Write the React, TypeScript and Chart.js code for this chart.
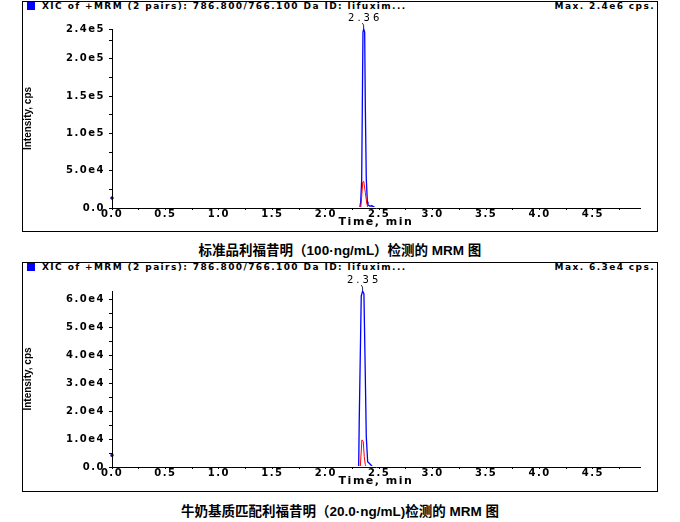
import React, { useEffect, useRef } from 'react';
import { Chart, registerables } from 'chart.js';
Chart.register(...registerables);

// ---- shared axis settings ----
const xMax = 4.94;
const xTickValues = [0, 0.25, 0.5, 0.75, 1, 1.25, 1.5, 1.75, 2, 2.25, 2.5, 2.75, 3, 3.25, 3.5, 3.75, 4, 4.25, 4.5, 4.75];
const xLabelStep = 0.5;

// ---- top chromatogram: standard, 100 ng/mL ----
const topBlueTimes = [0, 2.318, 2.327, 2.336, 2.348, 2.355, 2.364, 2.37, 2.379, 2.389, 2.395, 2.411, 2.43, 2.449, 2.467, 4.94];
const topBlueValues = [0, 0, 8400, 37500, 236000, 240000, 236000, 138000, 40000, 8400, 4000, 2500, 3000, 1500, 0, 0];
const topRedTimes = [0, 2.327, 2.336, 2.346, 2.355, 2.37, 2.383, 2.395, 4.94];
const topRedValues = [0, 0, 15000, 34800, 36000, 21000, 6700, 0, 0];
const topYMax = 240000;
const topYTickValues = [0, 25000, 50000, 75000, 100000, 125000, 150000, 175000, 200000, 225000, 240000];
const topYLabelValues = [0, 50000, 100000, 150000, 200000, 240000];
const topPeakTime = 2.355;
const topPeakLabel = '2.36';
const topMarker = 13400;
const topHeader = 'XIC of +MRM (2 pairs): 786.800/766.100 Da ID: lifuxim...';
const topMax = 'Max. 2.4e6 cps.';
const topCaption = '标准品利福昔明（100·ng/mL）检测的 MRM 图';

// ---- bottom chromatogram: milk matrix-matched, 20.0 ng/mL ----
const bottomBlueTimes = [0, 2.308, 2.313, 2.332, 2.345, 2.357, 2.369, 2.379, 2.392, 2.416, 2.439, 4.94];
const bottomBlueValues = [0, 0, 16300, 61300, 63000, 62000, 34900, 10900, 1900, 1000, 0, 0];
const bottomRedTimes = [0, 2.323, 2.338, 2.351, 2.36, 2.369, 2.378, 4.94];
const bottomRedValues = [0, 0, 9700, 9100, 3700, 1000, 0, 0];
const bottomYMax = 63000;
const bottomYTickValues = [0, 5000, 10000, 15000, 20000, 25000, 30000, 35000, 40000, 45000, 50000, 55000, 60000];
const bottomYLabelValues = [0, 10000, 20000, 30000, 40000, 50000, 60000];
const bottomPeakTime = 2.345;
const bottomPeakLabel = '2.35';
const bottomMarker = 4200;
const bottomHeader = 'XIC of +MRM (2 pairs): 786.800/766.100 Da ID: lifuxim...';
const bottomMax = 'Max. 6.3e4 cps.';
const bottomCaption = '牛奶基质匹配利福昔明（20.0·ng/mL)检测的 MRM 图';

const xTitle = 'Time, min';
const yTitle = 'Intensity, cps';

type PanelProps = {
  boxTop: number;
  boxHeight: number;
  canvasTop: number;
  canvasHeight: number;
  padTop: number;
  xAxisH: number;
  blueTimes: number[];
  blueValues: number[];
  redTimes: number[];
  redValues: number[];
  yMax: number;
  yTicks: number[];
  yLabels: number[];
  peakTime: number;
  peakLabel: string;
  marker: number;
  header: string;
  maxText: string;
};

const fmtY = (v: number) => (v === 0 ? '0.0' : v.toExponential(1).replace('e+', 'e'));
const near = (v: number, step: number) => Math.abs(v / step - Math.round(v / step)) < 1e-6;

function Panel(p: PanelProps) {
  const ref = useRef<HTMLCanvasElement | null>(null);
  useEffect(() => {
    if (!ref.current) return;
    const toPts = (t: number[], v: number[]) => t.map((x, i) => ({ x, y: v[i] }));
    const xTickFont = { family: 'DejaVu Sans', size: 10, weight: 'bold' as const, lineHeight: 0.8 };
    const yTickFont = { family: 'DejaVu Sans', size: 10, weight: 'bold' as const, lineHeight: 1 };
    const lineClip = { left: 2, right: 2, top: 6, bottom: -1 };
    const overlay = {
      id: 'overlay',
      beforeDraw(chart: any) {
        chart.ctx.letterSpacing = '1.5px';
      },
      afterDraw(chart: any) {
        const ctx = chart.ctx;
        const area = chart.chartArea;
        const xs = chart.scales.x;
        const px = xs.getPixelForValue(p.peakTime);
        ctx.save();
        ctx.letterSpacing = '3px';
        ctx.font = '10px "DejaVu Sans"';
        ctx.fillStyle = '#000';
        ctx.textAlign = 'center';
        ctx.textBaseline = 'middle';
        ctx.fillText(p.peakLabel, px + 1.5, area.top - 10.5);
        ctx.strokeStyle = '#000';
        ctx.lineWidth = 0.8;
        ctx.beginPath();
        ctx.moveTo(px - 1.5, area.top - 6);
        ctx.quadraticCurveTo(px + 0.5, area.top - 4.5, px, area.top - 1);
        ctx.stroke();
        // y axis title
        ctx.letterSpacing = '0px';
        ctx.font = 'bold 10px "Liberation Sans"';
        ctx.translate(5, (area.top + area.bottom) / 2);
        ctx.rotate(-Math.PI / 2);
        ctx.fillText(yTitle, 0, 0);
        ctx.restore();
      },
    };
    const chart = new Chart(ref.current, {
      type: 'line',
      data: {
        datasets: [
          {
            data: toPts(p.redTimes, p.redValues),
            borderColor: '#ff0000',
            borderWidth: 1,
            pointRadius: 0,
            tension: 0,
            clip: lineClip,
          },
          {
            data: toPts(p.blueTimes, p.blueValues),
            borderColor: '#0000ff',
            borderWidth: 1.3,
            pointRadius: 0,
            tension: 0,
            clip: lineClip,
          },
          {
            data: [{ x: 0, y: p.marker }],
            showLine: false,
            pointStyle: 'rect',
            pointRadius: 1.5,
            backgroundColor: '#0000ff',
            borderColor: '#0000ff',
            clip: false,
          },
        ],
      },
      options: {
        animation: false,
        responsive: false,
        devicePixelRatio: 1,
        layout: { padding: { top: p.padTop, right: 17, left: 0, bottom: 0 } },
        plugins: { legend: { display: false }, tooltip: { enabled: false } },
        scales: {
          x: {
            type: 'linear',
            min: 0,
            max: xMax,
            afterBuildTicks: (s: any) => {
              s.ticks = xTickValues.map((v) => ({ value: v }));
            },
            afterFit: (s: any) => {
              s.height = p.xAxisH;
            },
            grid: { drawOnChartArea: false, drawTicks: true, tickLength: 2, color: '#000', tickColor: '#000' },
            border: { display: true, color: '#000', width: 1, z: 1 },
            ticks: {
              autoSkip: false,
              maxRotation: 0,
              padding: 0,
              color: '#000',
              font: xTickFont,
              callback: (v: any) => (near(Number(v), xLabelStep) ? Number(v).toFixed(1) : ''),
            },
            title: {
              display: true,
              text: xTitle,
              color: '#000',
              font: { family: 'DejaVu Sans', size: 11, weight: 'bold', lineHeight: 1 },
              padding: { top: 0, bottom: p.xAxisH - 20 },
            },
          },
          y: {
            type: 'linear',
            min: 0,
            max: p.yMax,
            afterBuildTicks: (s: any) => {
              s.ticks = p.yTicks.map((v) => ({ value: v }));
            },
            afterFit: (s: any) => {
              s.width = 89;
            },
            grid: { drawOnChartArea: false, drawTicks: true, tickLength: 3, color: '#000', tickColor: '#000' },
            border: { display: true, color: '#000', width: 1, z: 1 },
            ticks: {
              autoSkip: false,
              padding: 4,
              color: '#000',
              font: yTickFont,
              callback: (v: any) => (p.yLabels.includes(Number(v)) ? fmtY(Number(v)) : ''),
            },
          },
        },
      },
      plugins: [overlay],
    } as any);
    return () => chart.destroy();
  }, []);

  const headerFont: React.CSSProperties = {
    position: 'absolute',
    top: p.boxTop,
    height: 11,
    lineHeight: '11px',
    fontFamily: '"DejaVu Sans"',
    fontWeight: 'bold',
    fontSize: 9,
    letterSpacing: '1.4px',
    color: '#000',
    whiteSpace: 'nowrap',
  };

  return (
    <>
      <div
        style={{
          position: 'absolute',
          left: 22,
          top: p.boxTop,
          width: 636,
          height: p.boxHeight,
          boxSizing: 'border-box',
          border: '1px solid #000',
        }}
      />
      <div style={{ position: 'absolute', left: 27, top: p.boxTop + 1, width: 8, height: 8, background: '#0000ff' }} />
      <div style={{ ...headerFont, left: 42 }}>{p.header}</div>
      <div style={{ ...headerFont, left: 440, width: 215, textAlign: 'right' }}>{p.maxText}</div>
      <canvas
        ref={ref}
        width={634}
        height={p.canvasHeight}
        style={{ position: 'absolute', left: 23, top: p.canvasTop, width: 634, height: p.canvasHeight, display: 'block' }}
      />
    </>
  );
}

const captionStyle: React.CSSProperties = {
  position: 'absolute',
  left: 0,
  width: 680,
  textAlign: 'center',
  fontFamily: '"Liberation Sans", "Noto Sans CJK SC"',
  fontWeight: 'bold',
  fontSize: 13.5,
  height: 16,
  lineHeight: '16px',
  color: '#000',
  whiteSpace: 'nowrap',
};

export default function App() {
  return (
    <div style={{ position: 'absolute', left: 0, top: 0, width: 680, height: 522, background: '#fff', overflow: 'hidden' }}>
      <Panel
        boxTop={1}
        boxHeight={231}
        canvasTop={12}
        canvasHeight={218}
        padTop={17}
        xAxisH={22}
        blueTimes={topBlueTimes}
        blueValues={topBlueValues}
        redTimes={topRedTimes}
        redValues={topRedValues}
        yMax={topYMax}
        yTicks={topYTickValues}
        yLabels={topYLabelValues}
        peakTime={topPeakTime}
        peakLabel={topPeakLabel}
        marker={topMarker}
        header={topHeader}
        maxText={topMax}
      />
      <div style={{ ...captionStyle, top: 243 }}>{topCaption}</div>
      <Panel
        boxTop={262}
        boxHeight={230}
        canvasTop={273}
        canvasHeight={217}
        padTop={18}
        xAxisH={23}
        blueTimes={bottomBlueTimes}
        blueValues={bottomBlueValues}
        redTimes={bottomRedTimes}
        redValues={bottomRedValues}
        yMax={bottomYMax}
        yTicks={bottomYTickValues}
        yLabels={bottomYLabelValues}
        peakTime={bottomPeakTime}
        peakLabel={bottomPeakLabel}
        marker={bottomMarker}
        header={bottomHeader}
        maxText={bottomMax}
      />
      <div style={{ ...captionStyle, top: 504 }}>{bottomCaption}</div>
    </div>
  );
}
